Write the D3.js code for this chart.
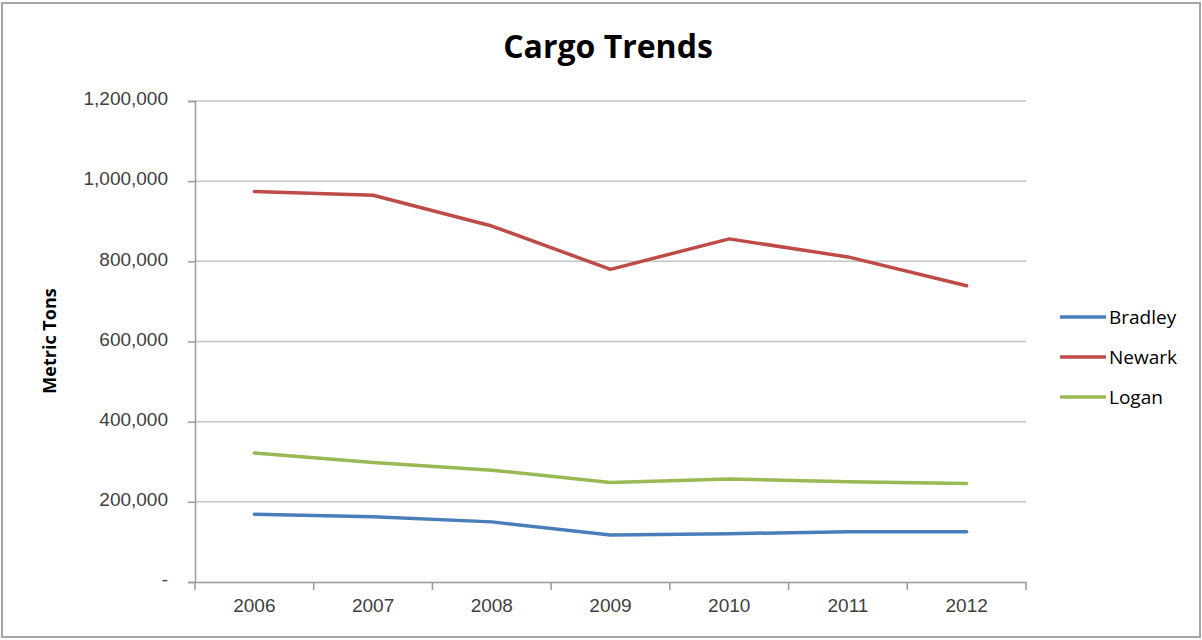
<!DOCTYPE html>
<html>
<head>
<meta charset="utf-8">
<script src="https://cdn.jsdelivr.net/npm/d3@7"></script>
<style>
    body { margin: 0; background: #fff; }
    svg { display: block; font-family: "Open Sans", Lato, sans-serif; }
</style>
</head>
<body>
<script>
// data
const YEARS = ["2006", "2007", "2008", "2009", "2010", "2011", "2012"];
const BRADLEY = [169000, 163000, 150000, 117000, 120500, 125500, 125500];
const NEWARK = [974000, 965000, 888000, 780000, 856000, 811000, 739000];
const LOGAN = [322000, 298000, 279000, 248000, 257000, 250000, 246000];
const SERIES_NAMES = ["Bradley", "Newark", "Logan"];
const SERIES_COLORS = ["#4a7ebb", "#be4b48", "#98b954"];
const Y_TICKS = [0, 200000, 400000, 600000, 800000, 1000000, 1200000];

const series = [BRADLEY, NEWARK, LOGAN].map((values, i) => ({
    name: SERIES_NAMES[i],
    color: SERIES_COLORS[i],
    values
}));

const width = 1202, height = 640;
const plot = {left: 195, right: 1026, top: 101, bottom: 582};

const svg = d3.select("body").append("svg")
    .attr("width", width)
    .attr("height", height);

// outer frame
svg.append("rect")
    .attr("x", 2).attr("y", 3)
    .attr("width", width - 4).attr("height", height - 6)
    .attr("fill", "#fff")
    .attr("stroke", "#a6a6a6")
    .attr("stroke-width", 2);

const x = d3.scaleBand()
    .domain(YEARS)
    .range([plot.left, plot.right]);

const y = d3.scaleLinear()
    .domain([0, 1200000])
    .range([plot.bottom, plot.top]);

// gridlines
svg.append("g")
    .selectAll("line")
    .data(Y_TICKS.filter(d => d > 0))
    .join("line")
    .attr("x1", plot.left).attr("x2", plot.right)
    .attr("y1", d => y(d)).attr("y2", d => y(d))
    .attr("stroke", "#c4c4c4")
    .attr("stroke-width", 1.5);

// y axis
const fmt = d3.format(",");
const y_axis = svg.append("g")
    .attr("transform", `translate(${plot.left},0)`)
    .call(d3.axisLeft(y)
        .tickValues(Y_TICKS)
        .tickSize(7)
        .tickPadding(20)
        .tickFormat(d => d === 0 ? "-" : fmt(d)));
y_axis.select(".domain").attr("stroke", "#999").attr("stroke-width", 1.5);
y_axis.selectAll(".tick line").attr("stroke", "#999").attr("stroke-width", 1.5);
y_axis.selectAll("text")
    .attr("fill", "#404040")
    .attr("dy", "0.2em")
    .style("font-size", "19px");

// x axis
const x_axis = svg.append("g")
    .attr("transform", `translate(0,${plot.bottom})`)
    .call(d3.axisBottom(x).tickSize(0).tickPadding(17));
x_axis.select(".domain").attr("stroke", "#999").attr("stroke-width", 1.5);
x_axis.selectAll("text")
    .attr("fill", "#404040")
    .style("font-size", "19px");
// tick marks sit between the bands
x_axis.append("g")
    .selectAll("line")
    .data(YEARS.concat(["end"]))
    .join("line")
    .attr("x1", (d, i) => plot.left + i * x.step())
    .attr("x2", (d, i) => plot.left + i * x.step())
    .attr("y1", 0).attr("y2", 8)
    .attr("stroke", "#999")
    .attr("stroke-width", 1.5);

// lines
const line = d3.line()
    .x((d, i) => x(YEARS[i]) + x.bandwidth() / 2)
    .y(d => y(d));

svg.append("g")
    .selectAll("path")
    .data(series)
    .join("path")
    .attr("d", d => line(d.values))
    .attr("fill", "none")
    .attr("stroke", d => d.color)
    .attr("stroke-width", 3.5)
    .attr("stroke-linejoin", "round")
    .attr("stroke-linecap", "round");

// title
svg.append("text")
    .attr("x", 608).attr("y", 58)
    .attr("text-anchor", "middle")
    .attr("font-weight", "bold")
    .attr("fill", "#000")
    .style("font-size", "32px")
    .text("Cargo Trends");

// y axis title
svg.append("text")
    .attr("transform", "translate(56,341) rotate(-90)")
    .attr("text-anchor", "middle")
    .attr("font-weight", "bold")
    .attr("fill", "#000")
    .style("font-size", "18px")
    .text("Metric Tons");

// legend
const legend = svg.append("g")
    .selectAll("g")
    .data(series)
    .join("g")
    .attr("transform", (d, i) => `translate(1060,${317 + i * 40})`);
legend.append("line")
    .attr("x1", 0).attr("x2", 46)
    .attr("stroke", d => d.color)
    .attr("stroke-width", 3.5);
legend.append("text")
    .attr("x", 49).attr("dy", "0.35em")
    .attr("fill", "#000")
    .style("font-size", "19px")
    .text(d => d.name);
</script>
</body>
</html>
